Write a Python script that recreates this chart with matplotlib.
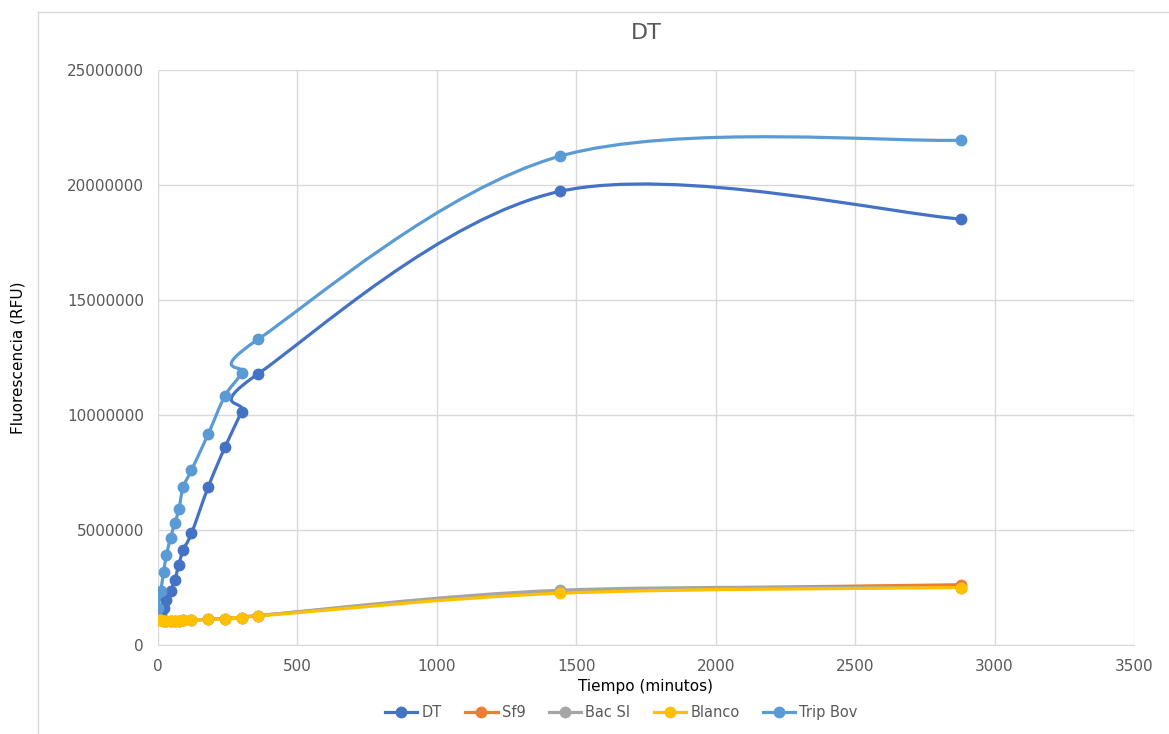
import numpy as np
import matplotlib
matplotlib.use("Agg")
import matplotlib.pyplot as plt
from matplotlib.path import Path
from matplotlib.patches import PathPatch
from matplotlib.lines import Line2D

# ---- data ----
tiempo = [0, 10, 20, 30, 45, 60, 75, 90, 120, 180, 240, 300, 360, 1440, 2880]
dt = [1150000, 1400000, 1600000, 1950000, 2350000, 2830000, 3500000, 4130000, 4850000,
      6870000, 8600000, 10150000, 11800000, 19720000, 18520000]
sf9 = [1150000, 1100000, 1050000, 1050000, 1050000, 1050000, 1050000, 1080000, 1080000,
       1120000, 1150000, 1180000, 1280000, 2300000, 2620000]
bac_si = [1150000, 1100000, 1050000, 1050000, 1050000, 1050000, 1060000, 1080000, 1090000,
          1120000, 1150000, 1180000, 1280000, 2380000, 2500000]
blanco = [1100000, 1080000, 1050000, 1040000, 1040000, 1040000, 1050000, 1070000, 1080000,
          1110000, 1130000, 1170000, 1260000, 2250000, 2500000]
trip_bov = [1600000, 2350000, 3170000, 3900000, 4650000, 5300000, 5900000, 6850000, 7600000,
            9170000, 10830000, 11830000, 13300000, 21250000, 21950000]

series_names = ["DT", "Sf9", "Bac SI", "Blanco", "Trip Bov"]
series_vals = [dt, sf9, bac_si, blanco, trip_bov]
colors = ["#4472C4", "#ED7D31", "#A5A5A5", "#FFC000", "#5B9BD5"]

xticks = [0, 500, 1000, 1500, 2000, 2500, 3000, 3500]
yticks = [0, 5000000, 10000000, 15000000, 20000000, 25000000]


def smooth_path(x, y):
    """Excel-like smoothed line: Catmull-Rom style cubic Bezier segments."""
    pts = np.column_stack([x, y]).astype(float)
    n = len(pts)
    verts = [pts[0]]
    codes = [Path.MOVETO]
    for i in range(n - 1):
        p0 = pts[i - 1] if i > 0 else pts[i]
        p1 = pts[i]
        p2 = pts[i + 1]
        p3 = pts[i + 2] if i + 2 < n else pts[i + 1]
        c1 = p1 + (p2 - p0) / 6.0
        c2 = p2 - (p3 - p1) / 6.0
        verts += [c1, c2, p2]
        codes += [Path.CURVE4] * 3
    return Path(verts, codes)


plt.rcParams['font.family'] = ['DejaVu Sans']
fig = plt.figure(figsize=(11.69, 7.34), dpi=100)
ax = fig.add_axes([158 / 1169, 89 / 734, 976 / 1169, 575 / 734])

lw = 2.3
for name, vals, c in zip(series_names, series_vals, colors):
    patch = PathPatch(smooth_path(tiempo, vals), facecolor="none", edgecolor=c,
                      lw=lw, capstyle="round", joinstyle="round")
    ax.add_patch(patch)
    ax.plot(tiempo, vals, ls="none", marker="o", ms=7.5, color=c, mec=c)

ax.set_xlim(0, 3500)
ax.set_ylim(0, 25000000)
ax.set_xticks(xticks)
ax.set_yticks(yticks)
ax.set_xticklabels([str(v) for v in xticks])
ax.set_yticklabels([str(v) for v in yticks])
ax.grid(True, color="#d9d9d9", lw=1)
ax.set_axisbelow(True)
for s in ["top", "right", "left"]:
    ax.spines[s].set_visible(False)
ax.spines["bottom"].set_color("#d9d9d9")
ax.tick_params(length=0, labelsize=11, labelcolor="#595959", pad=10)

ax.set_title("DT", fontsize=16, color="#595959", pad=22)
ax.set_xlabel("Tiempo (minutos)", fontsize=11, color="black", labelpad=4)
ax.set_ylabel("Fluorescencia (RFU)", fontsize=11, color="black", labelpad=30)

handles = [Line2D([0], [0], color=c, lw=lw, marker="o", ms=7.5) for c in colors]
leg = ax.legend(handles, series_names, loc="upper center", bbox_to_anchor=(0.475, -0.082),
                ncol=5, frameon=False, fontsize=10.5, handlelength=2.2,
                columnspacing=1.6, handletextpad=0.3)
for t in leg.get_texts():
    t.set_color("#595959")

# chart area border (top and left edges visible in reference)
fig.add_artist(Line2D([38 / 1169, 38 / 1169], [0, 1 - 12 / 734], color="#d9d9d9", lw=1,
                      transform=fig.transFigure))
fig.add_artist(Line2D([38 / 1169, 1], [1 - 12 / 734, 1 - 12 / 734], color="#d9d9d9", lw=1,
                      transform=fig.transFigure))

fig.savefig("out.png", dpi=100)
